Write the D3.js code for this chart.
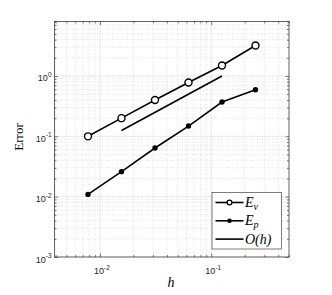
<!DOCTYPE html>
<html>
<head>
<meta charset="utf-8">
<script src="https://cdn.jsdelivr.net/npm/d3@7"></script>
<style>
  body { margin: 0; background: #fff; }
  .tick-label { font-family: "Liberation Sans", Arial, sans-serif; font-size: 9px; fill: #262626; }
  .axisText { font-family: "Liberation Serif", "DejaVu Serif", serif; fill: #000; }
</style>
</head>
<body>
<div id="chart"></div>
<script>
// data
var hValues = [1/128, 1/64, 1/32, 1/16, 1/8, 1/4];
var errV = [0.1, 0.2, 0.4, 0.78, 1.49, 3.2];
var errP = [0.0109, 0.026, 0.064, 0.148, 0.37, 0.59];
var refH = [1/64, 1/8];
var refErr = [0.125, 1.0];
var xTickExp = [-2, -1];
var yTickExp = [-3, -2, -1, 0];

var svgWidth = 332, svgHeight = 295;
var plot = { left: 54.5, right: 289, top: 21.5, bottom: 257 };

var svg = d3.select("#chart").append("svg")
  .attr("width", svgWidth)
  .attr("height", svgHeight);

var x = d3.scaleLog().domain([1/256, 0.5]).range([plot.left, plot.right]);
var y = d3.scaleLog().domain([1e-3, 8]).range([plot.bottom, plot.top]);

// major and minor tick positions
function logTicks(domain) {
  var major = [], minor = [];
  var lo = Math.floor(Math.log10(domain[0])), hi = Math.ceil(Math.log10(domain[1]));
  for (var k = lo; k <= hi; k++) {
    for (var m = 1; m <= 9; m++) {
      var v = m * Math.pow(10, k);
      if (v < domain[0] * 0.999 || v > domain[1] * 1.001) continue;
      if (m === 1) major.push(v); else minor.push(v);
    }
  }
  return { major: major, minor: minor };
}
var xt = logTicks(x.domain());
var yt = logTicks(y.domain());

// grid
var grid = svg.append("g");
grid.selectAll("line.xminor").data(xt.minor).enter().append("line")
  .attr("x1", d => x(d)).attr("x2", d => x(d))
  .attr("y1", plot.top).attr("y2", plot.bottom)
  .attr("stroke", "#d6d6d6").attr("stroke-width", 0.7).attr("stroke-dasharray", "1,1.5");
grid.selectAll("line.yminor").data(yt.minor).enter().append("line")
  .attr("y1", d => y(d)).attr("y2", d => y(d))
  .attr("x1", plot.left).attr("x2", plot.right)
  .attr("stroke", "#d6d6d6").attr("stroke-width", 0.7).attr("stroke-dasharray", "1,1.5");
grid.selectAll("line.xmajor").data(xt.major).enter().append("line")
  .attr("x1", d => x(d)).attr("x2", d => x(d))
  .attr("y1", plot.top).attr("y2", plot.bottom)
  .attr("stroke", "#e2e2e2").attr("stroke-width", 0.8);
grid.selectAll("line.ymajor").data(yt.major).enter().append("line")
  .attr("y1", d => y(d)).attr("y2", d => y(d))
  .attr("x1", plot.left).attr("x2", plot.right)
  .attr("stroke", "#e2e2e2").attr("stroke-width", 0.8);

// axes with inward ticks on all four sides
function addAxis(axisFn, scale, ticks, tr, size) {
  var g = svg.append("g").attr("transform", tr)
    .call(axisFn(scale).tickValues(ticks).tickSize(size).tickFormat(""));
  g.select(".domain").remove();
  g.selectAll("line").attr("stroke", "#262626").attr("stroke-width", 0.6);
}
addAxis(d3.axisBottom, x, xt.major, `translate(0,${plot.bottom})`, -3.5);
addAxis(d3.axisBottom, x, xt.minor, `translate(0,${plot.bottom})`, -2);
addAxis(d3.axisTop, x, xt.major, `translate(0,${plot.top})`, -3.5);
addAxis(d3.axisTop, x, xt.minor, `translate(0,${plot.top})`, -2);
addAxis(d3.axisLeft, y, yt.major, `translate(${plot.left},0)`, -3.5);
addAxis(d3.axisLeft, y, yt.minor, `translate(${plot.left},0)`, -2);
addAxis(d3.axisRight, y, yt.major, `translate(${plot.right},0)`, -3.5);
addAxis(d3.axisRight, y, yt.minor, `translate(${plot.right},0)`, -2);

svg.append("rect")
  .attr("x", plot.left).attr("y", plot.top)
  .attr("width", plot.right - plot.left).attr("height", plot.bottom - plot.top)
  .attr("fill", "none").attr("stroke", "#262626").attr("stroke-width", 0.7);

// tick labels with superscript exponents
function powLabel(sel) {
  sel.append("tspan").text("10");
  sel.append("tspan").attr("dy", -4.5).attr("font-size", "6.5px").text(d => d);
}
svg.selectAll("text.xlab").data(xTickExp).enter().append("text")
  .attr("class", "tick-label")
  .attr("x", d => x(Math.pow(10, d)) + 2)
  .attr("y", plot.bottom + 17)
  .attr("text-anchor", "middle")
  .call(powLabel);
svg.selectAll("text.ylab").data(yTickExp).enter().append("text")
  .attr("class", "tick-label")
  .attr("x", plot.left - 3)
  .attr("y", d => y(Math.pow(10, d)) + 5.5)
  .attr("text-anchor", "end")
  .call(powLabel);

// series
var line = d3.line().x(d => x(d[0])).y(d => y(d[1]));
var vData = hValues.map((h, i) => [h, errV[i]]);
var pData = hValues.map((h, i) => [h, errP[i]]);
var rData = refH.map((h, i) => [h, refErr[i]]);

svg.append("path").datum(vData).attr("d", line)
  .attr("fill", "none").attr("stroke", "#000").attr("stroke-width", 1.6);
svg.append("path").datum(pData).attr("d", line)
  .attr("fill", "none").attr("stroke", "#000").attr("stroke-width", 1.6);
svg.append("path").datum(rData).attr("d", line)
  .attr("fill", "none").attr("stroke", "#000").attr("stroke-width", 1.6);

svg.selectAll("circle.v").data(vData).enter().append("circle")
  .attr("cx", d => x(d[0])).attr("cy", d => y(d[1])).attr("r", 3.5)
  .attr("fill", "#fff").attr("stroke", "#000").attr("stroke-width", 1.4);
svg.selectAll("circle.p").data(pData).enter().append("circle")
  .attr("cx", d => x(d[0])).attr("cy", d => y(d[1])).attr("r", 2.7)
  .attr("fill", "#000");

// axis labels
svg.append("text")
  .attr("class", "axisText")
  .attr("transform", "translate(23,137) rotate(-90)")
  .attr("text-anchor", "middle")
  .attr("font-size", "13px")
  .text("Error");
svg.append("text")
  .attr("class", "axisText")
  .attr("x", 171).attr("y", 287)
  .attr("text-anchor", "middle")
  .attr("font-size", "14px")
  .attr("font-style", "italic")
  .text("h");

// legend
var legend = svg.append("g");
legend.append("rect")
  .attr("x", 212).attr("y", 192.5).attr("width", 69.5).attr("height", 56.5)
  .attr("fill", "#fff").attr("stroke", "#262626").attr("stroke-width", 0.6);
var rows = [
  { name: "E", sub: "v", marker: "open" },
  { name: "E", sub: "p", marker: "dot" },
  { name: "O(h)", sub: null, marker: null }
];
rows.forEach(function (r, i) {
  var cy = 202.5 + i * 18.3;
  legend.append("line").attr("x1", 215.5).attr("x2", 243.5).attr("y1", cy).attr("y2", cy)
    .attr("stroke", "#000").attr("stroke-width", 1.6);
  if (r.marker === "open") {
    legend.append("circle").attr("cx", 229.5).attr("cy", cy).attr("r", 2.4)
      .attr("fill", "#fff").attr("stroke", "#000").attr("stroke-width", 1.3);
  } else if (r.marker === "dot") {
    legend.append("circle").attr("cx", 229.5).attr("cy", cy).attr("r", 2.3).attr("fill", "#000");
  }
  var t = legend.append("text").attr("class", "axisText")
    .attr("x", 245).attr("y", cy + 4.5)
    .attr("font-size", "14px").attr("font-style", "italic");
  if (r.sub) {
    t.append("tspan").text(r.name);
    t.append("tspan").attr("dy", 2.5).attr("font-size", "10px").text(r.sub);
  } else {
    t.text(r.name);
  }
});
</script>
</body>
</html>
